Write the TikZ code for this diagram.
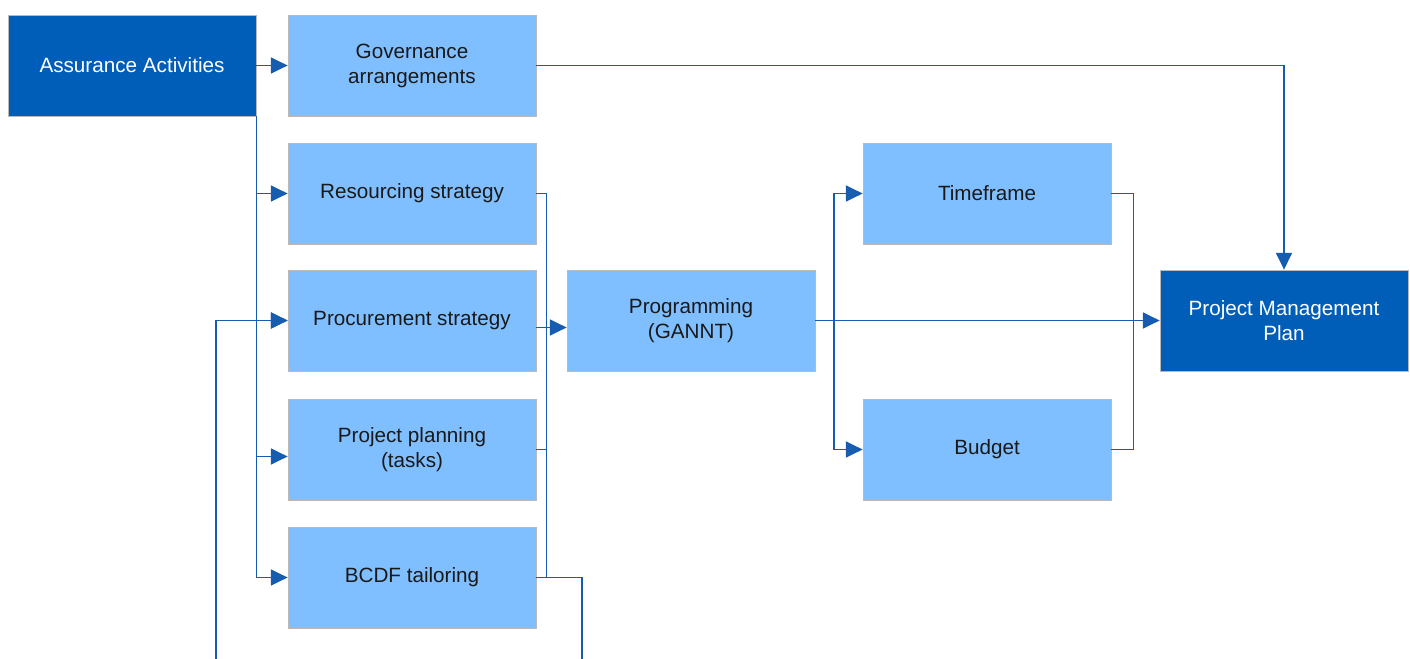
\documentclass[tikz,border=0pt]{standalone}
\usepackage{fontspec}
\setmainfont{Liberation Sans}
\usetikzlibrary{
    arrows.meta,
    positioning
}

\begin{document}
\begin{tikzpicture}
    [x=0.75pt,y=-0.75pt,line cap=butt,
    % Styles
    box/.style={draw=gray!55,line width=0.6pt,minimum width=186pt,minimum height=75.75pt,
        inner sep=2pt,align=center,font=\fontsize{15.5pt}{18.75pt}\selectfont},
    light box/.style={box,fill=lightblue,text=black!90},
    dark box/.style={box,fill=darkblue,text=white},
    link/.style={draw=linkblue,line width=1.2pt},
    arrow link/.style={link,-{Triangle[length=12.5pt,width=12pt]}}]

    % Colors
    \definecolor{darkblue}{RGB}{0,94,184}
    \definecolor{lightblue}{RGB}{128,191,255}
    \definecolor{linkblue}{RGB}{22,92,176}

    \useasboundingbox (0,0) rectangle (1410,659);

    % The boxes
    \node[dark box]  (assur)  at (132,65.5)   {Assurance Activities};
    \node[light box] (gov)    at (412,65.5)   {Governance\\arrangements};
    \node[light box] (res)    at (412,193.5)  {Resourcing strategy};
    \node[light box] (proc)   at (412,320.5)  {Procurement strategy};
    \node[light box] (plan)   at (412,449.5)  {Project planning\\(tasks)};
    \node[light box] (bcdf)   at (412,577.5)  {BCDF tailoring};
    \node[light box] (prog)   at (691,320.5)  {Programming\\(GANNT)};
    \node[light box] (time)   at (987,193.5)  {Timeframe};
    \node[light box] (budget) at (987,449.5)  {Budget};
    \node[dark box]  (pmp)    at (1284,320.5) {Project Management\\Plan};

    % loose ends at the bottom edge
    \coordinate (loop out) at (582,659);
    \coordinate (loop in)  at (216,659);
    \coordinate (split)    at (834,320.5);

    % Assurance activities fan out
    \draw[arrow link] (assur) -- (gov);
    \draw[arrow link] (assur.south east) |- (res.west);
    \draw[arrow link] (assur.south east) |- (proc.west);
    \draw[arrow link] (assur.south east) |- ([yshift=-5.25pt]plan.west);
    \draw[arrow link] (assur.south east) |- (bcdf.west);

    % governance straight to the plan
    \draw[arrow link] (gov.east) -| (pmp.north);

    % strategies collected
    \draw[link] (res.east) -- ++(10,0) |- (bcdf.east);
    \draw[link] (plan.east) -- ++(10,0);
    \draw[arrow link] ([yshift=-5.25pt]proc.east) -- ([yshift=-5.25pt]prog.west);

    % loop back from BCDF tailoring
    \draw[link] (bcdf.east) -| (loop out);
    \draw[arrow link] (loop in) |- (proc.west);

    % programming to time and budget
    \draw[arrow link] (prog) -- (pmp);
    \draw[arrow link] (split) |- (time.west);
    \draw[arrow link] (split) |- (budget.west);
    \draw[link] (time.east) -- ++(22,0) |- (budget.east);
\end{tikzpicture}
\end{document}
